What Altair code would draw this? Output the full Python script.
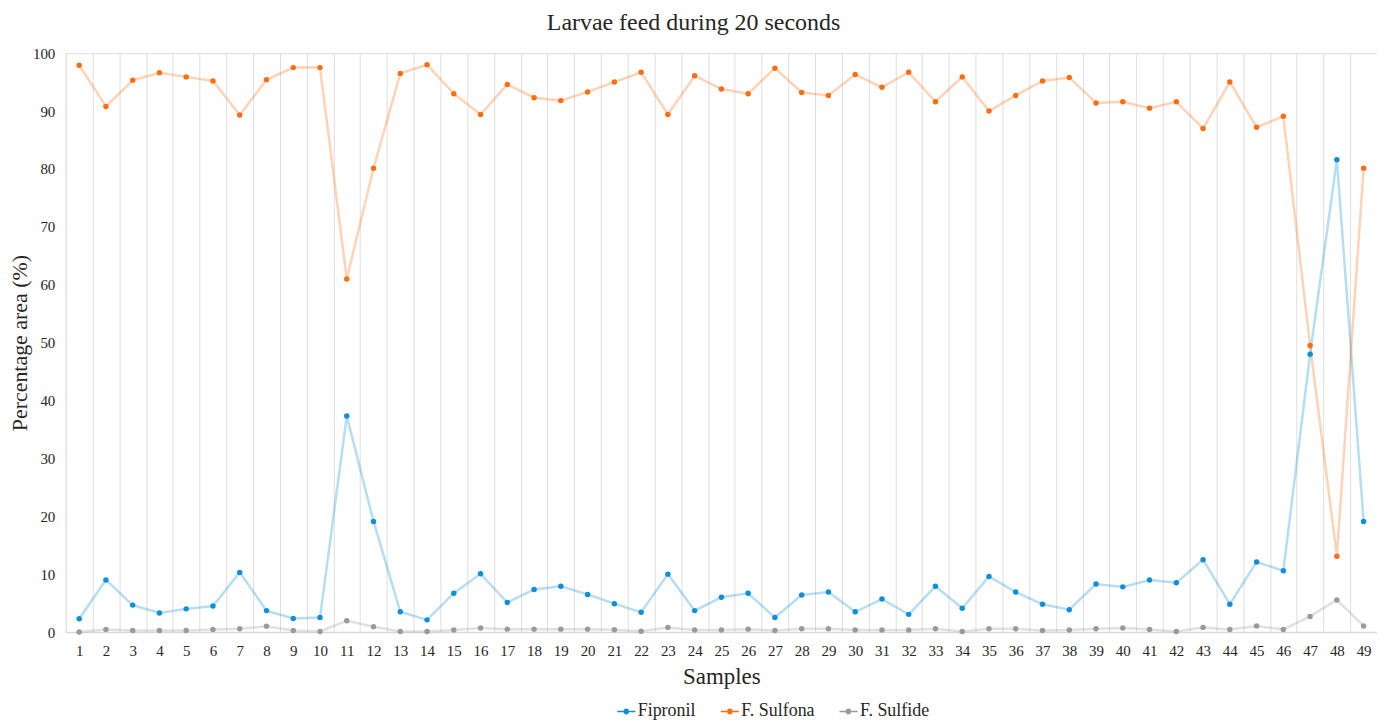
import altair as alt
import pandas as pd

samples = list(range(1, 50))
fipronil = [2.3, 9.0, 4.65, 3.3, 4.0, 4.5, 10.3, 3.7, 2.35, 2.5,
            37.3, 19.1, 3.5, 2.1, 6.7, 10.05, 5.1, 7.35, 7.9, 6.5,
            4.9, 3.4, 10.0, 3.7, 6.0, 6.7, 2.5, 6.4, 6.9, 3.5,
            5.7, 3.05, 7.9, 4.1, 9.6, 6.9, 4.8, 3.85, 8.3, 7.8,
            9.0, 8.5, 12.5, 4.8, 12.1, 10.6, 48.0, 81.6, 19.1]
sulfona = [97.9, 90.8, 95.3, 96.6, 95.9, 95.2, 89.3, 95.4, 97.5, 97.5,
           61.0, 80.1, 96.5, 98.0, 93.0, 89.4, 94.6, 92.3, 91.8, 93.3,
           95.0, 96.7, 89.4, 96.1, 93.8, 93.0, 97.4, 93.2, 92.7, 96.3,
           94.1, 96.7, 91.6, 95.9, 90.0, 92.7, 95.2, 95.8, 91.4, 91.6,
           90.5, 91.6, 87.0, 95.0, 87.2, 89.1, 49.5, 13.1, 80.1]
sulfide = [0.0, 0.45, 0.25, 0.25, 0.25, 0.45, 0.55, 1.0, 0.25, 0.1,
           1.95, 0.9, 0.1, 0.1, 0.35, 0.7, 0.5, 0.5, 0.5, 0.5,
           0.4, 0.15, 0.8, 0.35, 0.35, 0.5, 0.25, 0.55, 0.55, 0.35,
           0.35, 0.35, 0.55, 0.1, 0.55, 0.55, 0.25, 0.35, 0.55, 0.7,
           0.45, 0.1, 0.8, 0.45, 1.05, 0.45, 2.7, 5.55, 1.05]

series_names = ["Fipronil", "F. Sulfona", "F. Sulfide"]
series_colors = ["#0f8fd8", "#ff6d12", "#9a9a9a"]
y_ticks = list(range(0, 101, 10))

rows = []
for name, vals in zip(series_names, [fipronil, sulfona, sulfide]):
    for s, v in zip(samples, vals):
        rows.append({"Sample": s, "Series": name, "Value": v})
df = pd.DataFrame(rows)

FONT = "Liberation Serif"
TXT = "#262626"

color_scale = alt.Scale(domain=series_names, range=series_colors)
x_enc = alt.X("Sample:O",
              scale=alt.Scale(type="band", paddingInner=0, paddingOuter=0),
              axis=alt.Axis(title="Samples", tickBand="extent", grid=True,
                            gridColor="#dedede", gridWidth=1, ticks=False,
                            domainColor="#d9d9d9", domainWidth=1.5,
                            labelAngle=0, labelFontSize=15, labelPadding=12,
                            labelColor=TXT, labelFont=FONT,
                            titleFont=FONT, titleFontSize=23,
                            titleFontWeight="normal", titleColor=TXT,
                            titlePadding=7))
y_enc = alt.Y("Value:Q",
              scale=alt.Scale(domain=[0, 100], nice=False),
              axis=alt.Axis(title="Percentage area (%)", values=y_ticks,
                            grid=False, domain=False, ticks=False,
                            labelFontSize=15, labelPadding=11,
                            labelColor=TXT, labelFont=FONT,
                            titleFont=FONT, titleFontSize=22,
                            titleFontWeight="normal", titleColor=TXT,
                            titlePadding=1))

legend_symbol = ("M-1,-0.09 H-0.32 V0.09 H-1 Z "
                 "M0.32,-0.09 H1 V0.09 H0.32 Z "
                 "M-0.32,0 A0.32,0.32 0 1,1 0.32,0 A0.32,0.32 0 1,1 -0.32,0 Z")

legend = alt.Legend(title=None, orient="none", direction="horizontal",
                    legendX=553, legendY=651,
                    symbolType=legend_symbol, symbolSize=330,
                    symbolStrokeWidth=0, symbolOpacity=1,
                    labelFont=FONT, labelFontSize=18,
                    labelColor=TXT, labelOffset=2, columnPadding=24)

color_enc = alt.Color("Series:N", scale=color_scale, sort=series_names,
                      legend=legend)

lines = alt.Chart(df).mark_line(strokeWidth=2.5, opacity=0.3).encode(
    x=x_enc, y=y_enc, color=color_enc, detail="Series:N",
)
points = alt.Chart(df).mark_circle(size=30, opacity=1).encode(
    x=x_enc, y=y_enc, color=color_enc,
)

chart = (lines + points).properties(
    width=1316, height=581,
    title=alt.TitleParams("Larvae feed during 20 seconds", font=FONT,
                          fontSize=24, fontWeight="normal", color=TXT,
                          anchor="middle", dx=-28, offset=11),
    autosize=alt.AutoSizeParams(type="none"),
    padding={"left": 58, "top": 44, "right": 0, "bottom": 90},
).configure_view(stroke=None).configure(
    background="white", font=FONT
).configure_legend(labelFont=FONT, labelFontSize=18, labelColor=TXT)

chart.save("out.html", embed_options={"renderer": "svg", "actions": False})
